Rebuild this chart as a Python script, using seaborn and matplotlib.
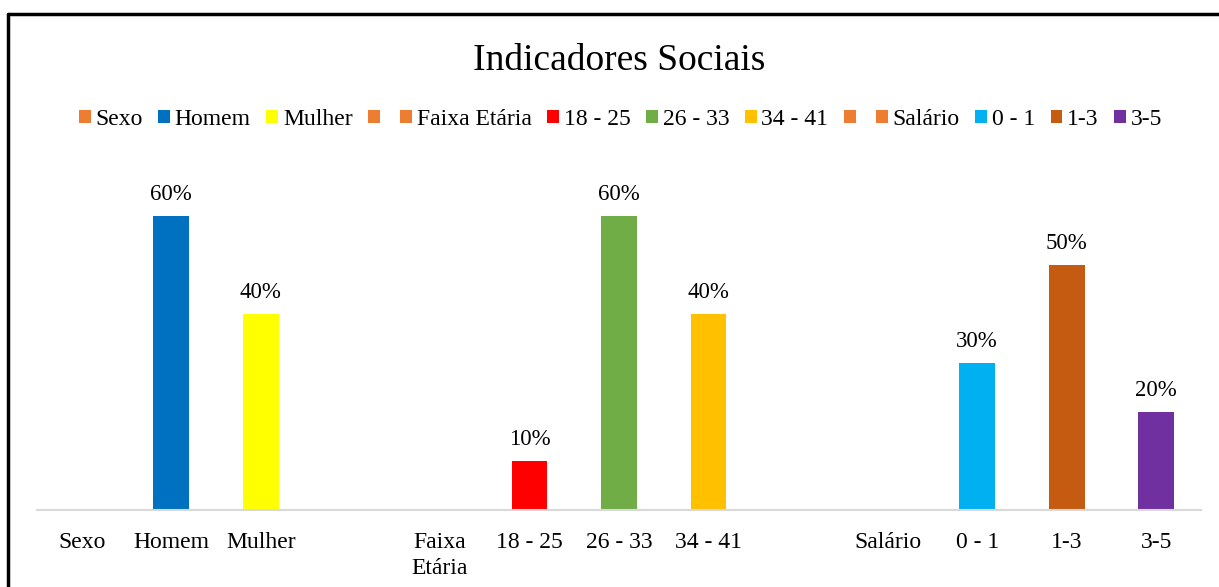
import matplotlib
matplotlib.use("Agg")
import matplotlib.pyplot as plt
from matplotlib.patches import Patch
from matplotlib.lines import Line2D
import pandas as pd
import seaborn as sns

# slots on the x axis (blank ones keep the gaps between groups)
categorias = ["Sexo", "Homem", "Mulher", " ", "Faixa Etária", "18 - 25", "26 - 33",
              "34 - 41", "  ", "Salário", "0 - 1", "1-3", "3-5"]
rotulos_x = ["Sexo", "Homem", "Mulher", "", "Faixa\nEtária", "18 - 25", "26 - 33",
             "34 - 41", "", "Salário", "0 - 1", "1-3", "3-5"]
rotulos_legenda = ["Sexo", "Homem", "Mulher", "", "Faixa Etária", "18 - 25", "26 - 33",
                   "34 - 41", "", "Salário", "0 - 1", "1-3", "3-5"]
valores = [0, 0.60, 0.40, 0, 0, 0.10, 0.60, 0.40, 0, 0, 0.30, 0.50, 0.20]
cores = ["#ED7D31", "#0070C0", "#FFFF00", "#ED7D31", "#ED7D31", "#FF0000", "#70AD47",
         "#FFC000", "#ED7D31", "#ED7D31", "#00B0F0", "#C55A11", "#7030A0"]

df = pd.DataFrame({"categoria": categorias, "valor": valores})
paleta = dict(zip(categorias, cores))

sns.set_theme(style="white")
plt.rcParams["font.family"] = ["Liberation Serif", "DejaVu Serif"]
plt.rcParams["text.color"] = "black"
plt.rcParams["xtick.color"] = "black"

fig = plt.figure(figsize=(12.19, 5.87), dpi=100)
ax = fig.add_axes([37 / 1219, 77 / 587, 1164 / 1219, 343 / 587])

sns.barplot(data=df, x="categoria", y="valor", hue="categoria", order=categorias,
            palette=paleta, saturation=1, width=0.4, linewidth=0, legend=False, ax=ax)

ax.set_ylim(0, 0.7)
ax.set_xlim(-0.5, len(categorias) - 0.5)
ax.set_yticks([])
ax.set_xlabel("")
ax.set_ylabel("")
ax.set_xticks(range(len(categorias)))
ax.set_xticklabels(rotulos_x, fontsize=17, va="top", linespacing=1.3, color="black")
ax.tick_params(axis="x", length=0, pad=16)
for lado in ["top", "left", "right"]:
    ax.spines[lado].set_visible(False)
ax.spines["bottom"].set_color("#D9D9D9")
ax.spines["bottom"].set_linewidth(1.5)

# data labels
for i, v in enumerate(valores):
    if v > 0:
        ax.annotate(f"{v:.0%}", (i, v), xytext=(0, 8), textcoords="offset points",
                    ha="center", va="bottom", fontsize=16.5, color="black")

fig.text(0.508, 0.896, "Indicadores Sociais", ha="center", va="center", fontsize=27)

handles = [Patch(facecolor=c, edgecolor="none") for c in cores]
fig.legend(handles, rotulos_legenda, loc="center", bbox_to_anchor=(0.509, 0.797),
           ncol=len(handles), frameon=False, fontsize=17, handlelength=0.5,
           handleheight=0.5, handletextpad=0.2, columnspacing=0.66, borderpad=0)

# chart border (top and left edges visible)
fig.add_artist(Line2D([8 / 1219, 1.0], [1 - 14 / 587, 1 - 14 / 587], color="black",
                      lw=2.5, transform=fig.transFigure))
fig.add_artist(Line2D([8 / 1219, 8 / 1219], [0, 1 - 14 / 587], color="black",
                      lw=2.5, transform=fig.transFigure))

fig.savefig("out.png", dpi=100)
